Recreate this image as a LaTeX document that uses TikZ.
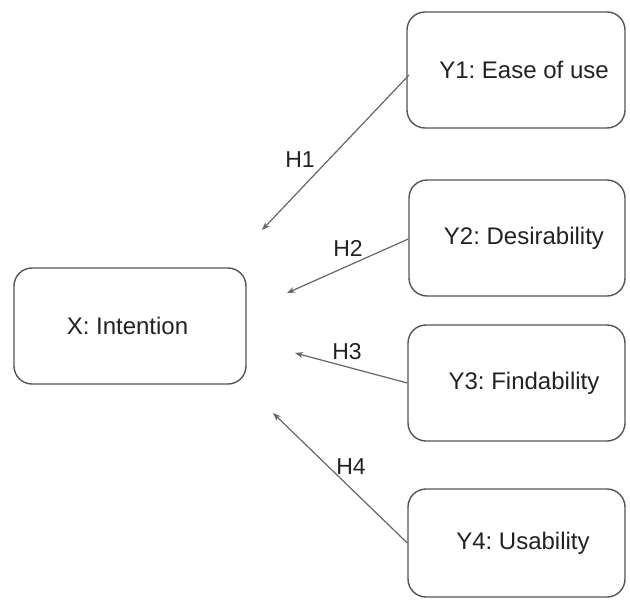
\documentclass[tikz,border=0pt]{standalone}
\usepackage{fontspec}
\setmainfont{Liberation Sans}
\usetikzlibrary{arrows.meta}
\definecolor{boxline}{HTML}{555555}
\definecolor{arrline}{HTML}{666666}
\definecolor{txt}{HTML}{222222}
\frenchspacing
\begin{document}
\begin{tikzpicture}[x=1pt,y=-1pt,
  rbox/.style={draw=boxline,line width=1.4pt,rounded corners=18pt,inner sep=0pt},
  btext/.style={text=txt,font=\fontsize{24}{28}\selectfont,inner sep=0pt},
  hyp/.style={draw=arrline,line width=1.2pt,-{Stealth[length=8pt,width=6pt]}},
  hlabel/.style={text=txt,font=\fontsize{23}{26}\selectfont,inner sep=1pt}]
\useasboundingbox (0,0) rectangle (630,600);
\node[rbox,minimum width=232pt,minimum height=116pt] (x) at (130,326) {};
\node[btext] (xt) at (127.5,326) {X: Intention};
\node[rbox,minimum width=218pt,minimum height=116pt] (y1) at (516,70) {};
\node[btext] (y1t) at (524,70) {Y1: Ease of use};
\node[rbox,minimum width=216pt,minimum height=116pt] (y2) at (517,238) {};
\node[btext] (y2t) at (524,238) {Y2: Desirability};
\node[rbox,minimum width=217pt,minimum height=116pt] (y3) at (516.5,383) {};
\node[btext] (y3t) at (524,383) {Y3: Findability};
\node[rbox,minimum width=217pt,minimum height=108pt] (y4) at (516.5,543) {};
\node[btext] (y4t) at (523,543) {Y4: Usability};
\coordinate (e1) at (262,230);
\coordinate (e2) at (287,293);
\coordinate (e3) at (295,353);
\coordinate (e4) at (273,413);
\coordinate (s1) at (409,75);
\draw[hyp] (s1) -- (e1);
\draw[hyp] (y2.west |- 0,239) -- (e2);
\draw[hyp] (y3.west) -- (e3);
\draw[hyp] (y4.west) -- (e4);
\node[hlabel] (h1) at (300,160) {H1};
\node[hlabel] (h2) at (348,248) {H2};
\node[hlabel] (h3) at (347,352) {H3};
\node[hlabel] (h4) at (351,467) {H4};
\end{tikzpicture}
\end{document}
